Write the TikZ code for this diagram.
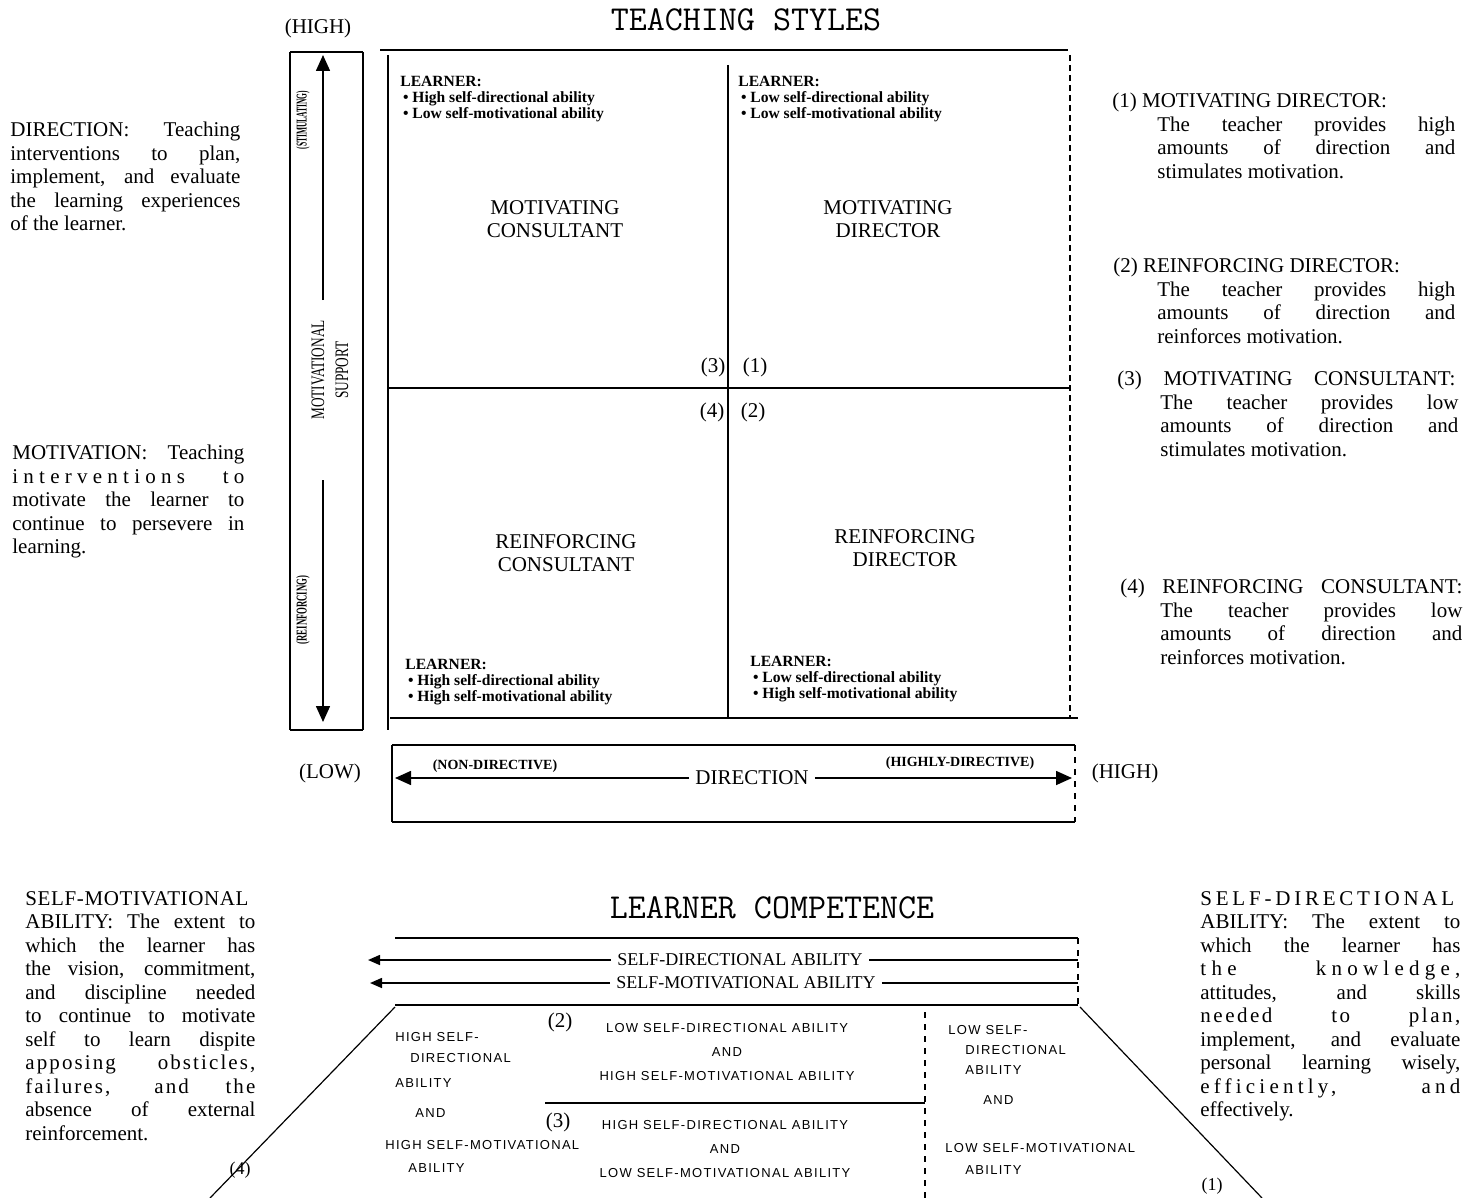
\documentclass[tikz,border=0pt]{standalone}
\usepackage{fontspec}
\setmainfont{Liberation Serif}
\newfontfamily\handfont[LetterSpace=10]{Liberation Sans}
\usetikzlibrary{arrows.meta,positioning,calc}

\newcommand{\jline}[2]{\makebox[#1][s]{#2}}
\newcommand{\sline}[3]{\makebox[#1][s]{\addfontfeature{LetterSpace=#2}#3}}
\newcommand{\narrow}[2]{\scalebox{#1}[1]{#2}}

\begin{document}
\begin{tikzpicture}[
    x=0.5pt, y=-0.5pt,
    thinline/.style={line width=0.6pt},
    thickline/.style={line width=1.3pt},
    bodytext/.style={inner sep=0pt, anchor=north west, align=left, font=\fontsize{10.5}{11.75}\selectfont},
    quadlabel/.style={align=center, inner sep=0pt, font=\fontsize{10.5}{11.75}\selectfont},
    plain/.style={inner sep=0pt, font=\fontsize{10.5}{11.75}\selectfont},
    learner/.style={inner sep=0pt, anchor=north west, align=left, font=\fontsize{7.8}{8}\selectfont\bfseries},
    heading/.style={inner sep=0pt, font=\ttfamily\fontsize{17.5}{20}\selectfont},
    hand/.style={inner sep=0pt, anchor=west, font=\handfont\fontsize{6.5}{8}\selectfont},
    handc/.style={inner sep=0pt, align=center, font=\handfont\fontsize{6.5}{12}\selectfont},
    sidelbl/.style={inner sep=0pt, rotate=90, font=\fontsize{7.5}{8}\selectfont\bfseries},
    gap/.style={fill=white, inner sep=3pt},
    arrow/.style={-{Triangle[length=8pt,width=7pt]}, line width=0.8pt},
    smallarrow/.style={-{Triangle[length=6pt,width=5pt]}, line width=0.8pt}
]
    \useasboundingbox (0,0) rectangle (1477,1198);

    % titles
    \node[heading] (tstitle) at (746,20) {TEACHING STYLES};
    \node[heading] (lctitle) at (772,908) {LEARNER COMPETENCE};
    \node[plain] (hightop) at (318,28) {(HIGH)};

    % motivational support box
    \draw[thickline] (290,52) -- (363,52);
    \draw[thickline] (290,730) -- (363,730);
    \draw[thinline] (290,52) -- (290,730);
    \draw[thinline] (363,52) -- (363,730);
    \node[sidelbl] (stimlbl) at (303,120) {\narrow{0.5}{(STIMULATING)}};
    \node[sidelbl] (reinlbl) at (303,610) {\narrow{0.58}{(REINFORCING)}};
    \node[inner sep=0pt, rotate=90, align=center, font=\fontsize{9.5}{12}\selectfont] (msup) at (330,370) {\narrow{0.7}{MOTIVATIONAL}\\\narrow{0.7}{SUPPORT}};
    \coordinate (stimfrom) at (323,300);
    \coordinate (stimtip) at (323,55);
    \coordinate (reinfrom) at (323,480);
    \coordinate (reintip) at (323,722);
    \draw[arrow] (stimfrom) -- (stimtip);
    \draw[arrow] (reinfrom) -- (reintip);

    % quadrant grid
    \draw[thickline] (380,50) -- (1068,50);
    \draw[thinline] (388,55) -- (388,730);
    \draw[thinline, densely dashed] (1070,55) -- (1070,718);
    \draw[thickline] (390,718) -- (1078,718);
    \draw[line width=1pt] (388,388) -- (1070,388);
    \draw[thinline] (728,65) -- (728,718);

    \node[learner] (tllearn) at (400,76) {LEARNER:\\\,\textbullet\ High self-directional ability\\\,\textbullet\ Low self-motivational ability};
    \node[learner] (trlearn) at (738,76) {LEARNER:\\\,\textbullet\ Low self-directional ability\\\,\textbullet\ Low self-motivational ability};
    \node[learner] (bllearn) at (405,659) {LEARNER:\\\,\textbullet\ High self-directional ability\\\,\textbullet\ High self-motivational ability};
    \node[learner] (brlearn) at (750,656) {LEARNER:\\\,\textbullet\ Low self-directional ability\\\,\textbullet\ High self-motivational ability};

    \node[quadlabel] (mc) at (555,219) {MOTIVATING\\CONSULTANT};
    \node[quadlabel] (md) at (888,219) {MOTIVATING\\DIRECTOR};
    \node[quadlabel] (rc) at (566,553) {REINFORCING\\CONSULTANT};
    \node[quadlabel] (rd) at (905,548) {REINFORCING\\DIRECTOR};

    \node[plain] (num3) at (713,367) {(3)};
    \node[plain] (num1) at (755,367) {(1)};
    \node[plain] (num4) at (712,412) {(4)};
    \node[plain] (num2) at (753,412) {(2)};

    % direction box
    \draw[thinline] (392,745) -- (1075,745);
    \draw[thickline] (392,822) -- (1075,822);
    \draw[thinline] (392,745) -- (392,822);
    \draw[thinline, dashed] (1075,745) -- (1075,822);
    \node[plain, gap] (dirlbl) at (752,778) {DIRECTION};
    \coordinate (dirlow) at (395,780);
    \coordinate (dirhigh) at (1072,780);
    \draw[arrow] (dirlbl.west) -- (dirlbl.west -| dirlow);
    \draw[arrow] (dirlbl.east) -- (dirlbl.east -| dirhigh);
    \node[inner sep=0pt, font=\fontsize{7}{8}\selectfont\bfseries] (nondir) at (495,766) {(NON-DIRECTIVE)};
    \node[inner sep=0pt, font=\fontsize{7}{8}\selectfont\bfseries] (highdir) at (960,763) {(HIGHLY-DIRECTIVE)};
    \node[plain] (lowlbl) at (330,773) {(LOW)};
    \node[plain] (highlbl) at (1125,773) {(HIGH)};

    % definitions, left
    \node[bodytext] (dirdef) at (10,122) {\jline{115pt}{DIRECTION: Teaching}\\\jline{115pt}{interventions to plan,}\\\jline{115pt}{implement, and evaluate}\\\jline{115pt}{the learning experiences}\\of the learner.};
    \node[bodytext] (motdef) at (12,445) {\jline{116pt}{MOTIVATION: Teaching}\\\sline{116pt}{25}{interventions to}\\\jline{116pt}{motivate the learner to}\\\jline{116pt}{continue to persevere in}\\learning.};

    % styles, right
    \node[bodytext] (mddef) at (1112,93) {(1) MOTIVATING DIRECTOR:\\\hspace*{22.5pt}\jline{149pt}{The teacher provides high}\\\hspace*{22.5pt}\jline{149pt}{amounts of direction and}\\\hspace*{22.5pt}stimulates motivation.};
    \node[bodytext] (rddef) at (1113,258) {(2) REINFORCING DIRECTOR:\\\hspace*{22pt}\jline{149pt}{The teacher provides high}\\\hspace*{22pt}\jline{149pt}{amounts of direction and}\\\hspace*{22pt}reinforces motivation.};
    \node[bodytext] (mcdef) at (1117,371) {\jline{169pt}{(3) MOTIVATING CONSULTANT:}\\\hspace*{21.5pt}\jline{149pt}{The teacher provides low}\\\hspace*{21.5pt}\jline{149pt}{amounts of direction and}\\\hspace*{21.5pt}stimulates motivation.};
    \node[bodytext] (rcdef) at (1120,579) {\jline{171pt}{(4) REINFORCING CONSULTANT:}\\\hspace*{20pt}\jline{151pt}{The teacher provides low}\\\hspace*{20pt}\jline{151pt}{amounts of direction and}\\\hspace*{20pt}reinforces motivation.};

    % learner competence
    \draw[thickline] (395,938) -- (1078,938);
    \draw[thickline] (395,1005) -- (1078,1005);
    \draw[thinline, dashed] (1078,938) -- (1078,1005);
    \node[plain, gap, font=\fontsize{9}{10}\selectfont] (sdlbl) at (740,960) {SELF-DIRECTIONAL ABILITY};
    \node[plain, gap, font=\fontsize{9}{10}\selectfont] (smlbl) at (746,983) {SELF-MOTIVATIONAL ABILITY};
    \coordinate (sdleft) at (368,958);
    \coordinate (sdright) at (1078,958);
    \coordinate (smleft) at (370,983);
    \coordinate (smright) at (1078,983);
    \draw[smallarrow] (sdlbl.west) -- (sdlbl.west -| sdleft);
    \draw[line width=0.8pt] (sdlbl.east) -- (sdlbl.east -| sdright);
    \draw[smallarrow] (smlbl.west) -- (smlbl.west -| smleft);
    \draw[line width=0.8pt] (smlbl.east) -- (smlbl.east -| smright);

    \draw[thinline] (395,1007) -- (210,1198);
    \draw[thinline] (1080,1007) -- (1262,1198);
    \draw[thickline] (545,1103) -- (925,1103);
    \draw[thinline, dashed] (925,1012) -- (925,1198);

    \foreach \hx/\hy/\htxt [count=\i] in {395/1037/HIGH SELF-, 410/1058/DIRECTIONAL, 395/1083/ABILITY, 415/1113/AND, 385/1145/HIGH SELF-MOTIVATIONAL, 408/1168/ABILITY}
        \node[hand] (lefthw\i) at (\hx,\hy) {\htxt};
    \foreach \hx/\hy/\htxt [count=\i] in {948/1030/LOW SELF-, 965/1050/DIRECTIONAL, 965/1070/ABILITY, 983/1100/AND, 945/1148/LOW SELF-MOTIVATIONAL, 965/1170/ABILITY}
        \node[hand] (righthw\i) at (\hx,\hy) {\htxt};
    \node[handc] (midtop) at (727,1052) {LOW SELF-DIRECTIONAL ABILITY\\AND\\HIGH SELF-MOTIVATIONAL ABILITY};
    \node[handc] (midbot) at (725,1149) {HIGH SELF-DIRECTIONAL ABILITY\\AND\\LOW SELF-MOTIVATIONAL ABILITY};
    \node[plain] (bnum2) at (560,1022) {(2)};
    \node[plain] (bnum3) at (558,1122) {(3)};
    \node[plain, font=\fontsize{9}{10}\selectfont] (bnum4) at (240,1170) {(4)};
    \node[plain, font=\fontsize{9}{10}\selectfont] (bnum1) at (1212,1186) {(1)};

    % ability definitions
    \node[bodytext] (smdef) at (25,891) {\sline{115pt}{3}{SELF-MOTIVATIONAL}\\\jline{115pt}{ABILITY: The extent to}\\\jline{115pt}{which the learner has}\\\jline{115pt}{the vision, commitment,}\\\jline{115pt}{and discipline needed}\\\jline{115pt}{to continue to motivate}\\\jline{115pt}{self to learn dispite}\\\sline{115pt}{10}{apposing obsticles,}\\\sline{115pt}{10}{failures, and the}\\\jline{115pt}{absence of external}\\reinforcement.};
    \node[bodytext] (sddef) at (1200,891) {\sline{130pt}{18}{SELF-DIRECTIONAL}\\\jline{130pt}{ABILITY: The extent to}\\\jline{130pt}{which the learner has}\\\sline{130pt}{25}{the knowledge,}\\\jline{130pt}{attitudes, and skills}\\\sline{130pt}{12}{needed to plan,}\\\jline{130pt}{implement, and evaluate}\\\jline{130pt}{personal learning wisely,}\\\sline{130pt}{20}{efficiently, and}\\effectively.};
\end{tikzpicture}
\end{document}
